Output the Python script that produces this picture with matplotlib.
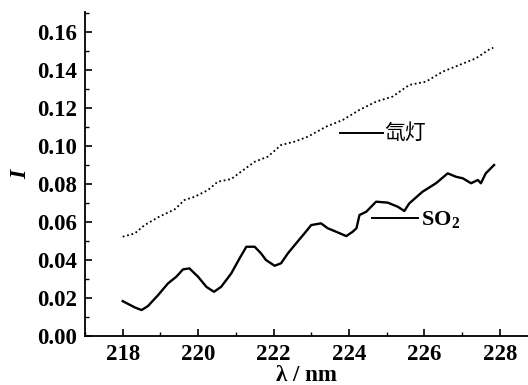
import matplotlib
matplotlib.use('Agg')
import matplotlib.pyplot as plt
from matplotlib.ticker import MultipleLocator

plt.rcParams['font.family'] = ['Liberation Serif', 'Noto Sans CJK SC']
plt.rcParams['mathtext.fontset'] = 'stix'

# SO2 absorption curve
so2_wl = [218.0, 218.32, 218.5, 218.67, 218.94, 219.2, 219.42, 219.6, 219.77, 220.0,
          220.22, 220.42, 220.61, 220.88, 221.1, 221.28, 221.5, 221.67, 221.8, 222.03,
          222.2, 222.38, 222.6, 222.82, 223.0, 223.26, 223.44, 223.66, 223.93, 224.1,
          224.2, 224.28, 224.46, 224.72, 225.03, 225.3, 225.47, 225.6, 225.95, 226.31,
          226.62, 226.84, 227.02, 227.24, 227.42, 227.5, 227.63, 227.85]
so2_i = [0.0184, 0.0151, 0.0137, 0.0158, 0.0216, 0.0277, 0.0312, 0.0351, 0.0356, 0.0312,
         0.0259, 0.0233, 0.0259, 0.033, 0.0409, 0.047, 0.047, 0.0435, 0.040, 0.037,
         0.0383, 0.0435, 0.0488, 0.054, 0.0584, 0.0593, 0.0567, 0.0549, 0.0526, 0.0549,
         0.0567, 0.0637, 0.0654, 0.0707, 0.0702, 0.068, 0.0658, 0.0698, 0.0759, 0.0804,
         0.0856, 0.0838, 0.083, 0.0804, 0.0821, 0.0804, 0.0856, 0.090]

# xenon lamp curve
xe_wl = [218.0, 218.32, 218.58, 218.94, 219.38, 219.64, 219.91, 220.26, 220.52, 220.88,
         221.14, 221.5, 221.85, 222.2, 222.56, 222.91, 223.4, 223.84, 224.28, 224.72,
         225.16, 225.6, 226.04, 226.49, 226.93, 227.37, 227.77, 227.83]
xe_i = [0.0523, 0.054, 0.0584, 0.0625, 0.0667, 0.0716, 0.0733, 0.0768, 0.0812, 0.0826,
        0.0865, 0.0917, 0.0944, 0.1005, 0.1023, 0.1049, 0.1102, 0.1137, 0.119, 0.1233,
        0.126, 0.1321, 0.1338, 0.1391, 0.1426, 0.1461, 0.1514, 0.1516]

fig = plt.figure(figsize=(5.28, 3.85), dpi=100)
ax = fig.add_axes([0.161, 0.127, 0.839, 0.842])

ax.plot(so2_wl, so2_i, color='black', lw=1.7)
ax.plot(xe_wl, xe_i, color='black', lw=1.3, ls=(0, (1, 1.5)))

# callouts
ax.plot([223.77, 224.91], [0.1068, 0.1068], color='black', lw=1.4)
ax.text(224.93, 0.1068, '氙灯', fontsize=15, va='center', ha='left',
        family=['Noto Sans CJK SC'])
ax.plot([224.6, 225.84], [0.0621, 0.0621], color='black', lw=1.4)
ax.text(225.92, 0.0615, r'SO$_\mathregular{2}$', fontsize=16, va='center', ha='left',
        weight='bold')

ax.set_xlim(217, 228.75)
ax.set_ylim(0, 0.1705)
ax.xaxis.set_major_locator(MultipleLocator(2))
ax.xaxis.set_minor_locator(MultipleLocator(1))
ax.yaxis.set_major_locator(MultipleLocator(0.02))
ax.yaxis.set_minor_locator(MultipleLocator(0.01))
ax.yaxis.set_major_formatter(plt.FormatStrFormatter('%.2f'))

for s in ['top', 'right']:
    ax.spines[s].set_visible(False)
ax.spines['left'].set_linewidth(1.3)
ax.spines['bottom'].set_linewidth(1.3)
ax.tick_params(which='major', direction='in', length=5, width=1.2, labelsize=16.5, pad=6)
ax.tick_params(which='minor', direction='in', length=3, width=1.0)
for lab in ax.get_xticklabels() + ax.get_yticklabels():
    lab.set_fontweight('bold')

ax.set_xlabel('λ / nm', fontsize=16.5, weight='bold', labelpad=0)
ax.set_ylabel('I', fontsize=17, style='italic', weight='bold', labelpad=4)

fig.savefig('out.png', dpi=100)
